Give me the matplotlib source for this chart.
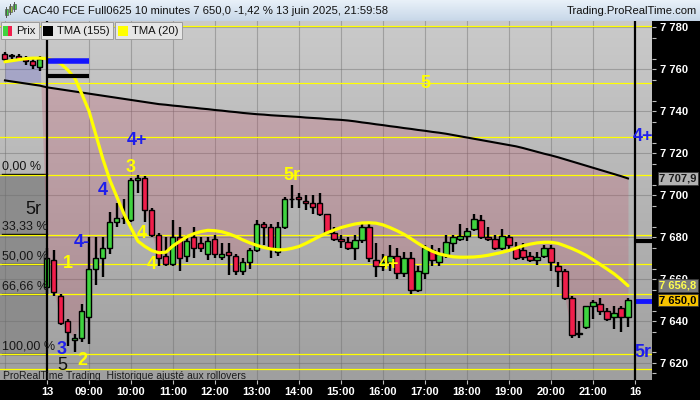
import numpy as np
import matplotlib
matplotlib.use("Agg")
import matplotlib.pyplot as plt
from matplotlib.colors import LinearSegmentedColormap
from matplotlib.patches import Rectangle

# CAC40 FCE Full0625, bougies 10 minutes (barre 0 = 13 juin 08:00)
bar_idx = list(range(-6, 84))
opens = [7767, 7766, 7766, 7765, 7764, 7761,
         7656, 7669, 7652, 7640, 7631, 7632, 7642, 7665, 7670, 7675, 7687, 7689, 7688, 7707,
         7708, 7693, 7681, 7671, 7667, 7680, 7671, 7680, 7677, 7672, 7679, 7670.5, 7673, 7671,
         7664, 7668, 7674, 7686, 7685, 7673, 7685, 7698, 7699, 7697, 7696, 7696, 7691, 7682,
         7679, 7677.6, 7675, 7678.5, 7685, 7669, 7666, 7668, 7671, 7663, 7670, 7655, 7663, 7674,
         7668, 7671.5, 7677, 7679, 7680.5, 7684, 7688, 7680, 7679, 7675, 7680, 7675, 7674, 7671,
         7669, 7671, 7675, 7666, 7664, 7651, 7634, 7637, 7647, 7648, 7645, 7642, 7646, 7642]
highs = [7768, 7767, 7767, 7766, 7765, 7766,
         7675, 7674, 7653, 7641, 7634, 7648, 7680, 7680, 7680, 7692, 7696, 7698, 7708, 7709.5,
         7709, 7694, 7682, 7680, 7688, 7685, 7681, 7685, 7680, 7680, 7681, 7677, 7677, 7672,
         7670, 7675, 7688, 7687, 7686, 7687, 7699, 7705, 7701, 7700, 7700, 7701, 7691, 7685,
         7681, 7680, 7681, 7686.5, 7686, 7677, 7672, 7676, 7675, 7673, 7673, 7666, 7676, 7676,
         7675, 7681, 7681, 7686, 7684.5, 7691, 7690.5, 7685, 7681, 7684, 7681, 7677.6, 7677, 7673,
         7673, 7676, 7676, 7668, 7665, 7652, 7640, 7647, 7650, 7651, 7646, 7647, 7647, 7651]
lows = [7764, 7765, 7764, 7762, 7760, 7759,
        7653, 7652, 7638, 7628, 7625, 7630, 7629, 7657, 7661, 7672, 7685, 7686, 7687, 7701,
        7687, 7680, 7666, 7666, 7666, 7664, 7668, 7670, 7673, 7669, 7670, 7669, 7662, 7662,
        7662, 7665, 7673, 7676, 7670, 7671, 7684, 7694, 7694, 7693, 7691, 7690, 7682, 7678,
        7675, 7674, 7669, 7677, 7668, 7661, 7664, 7664, 7660, 7661, 7653, 7654, 7660, 7666,
        7666, 7670, 7673, 7678, 7678, 7683, 7679, 7678, 7674, 7674, 7674, 7669, 7669, 7668,
        7666.5, 7670, 7664, 7656, 7650, 7632, 7632, 7636, 7641, 7643, 7640, 7636, 7635, 7637]
closes = [7765, 7766.5, 7765, 7764, 7762, 7765,
          7670, 7654, 7639, 7635, 7632, 7645, 7665, 7670, 7675, 7687, 7689, 7689, 7707, 7708,
          7693, 7681, 7670, 7667, 7680, 7670, 7678, 7675, 7675, 7678, 7672, 7672, 7671.5, 7664,
          7668, 7674, 7686, 7685, 7675, 7685, 7698, 7698, 7698, 7696, 7694.5, 7691, 7682, 7679,
          7678, 7675, 7678.5, 7685, 7670, 7666, 7668, 7671, 7663, 7670, 7655, 7664, 7675, 7669,
          7672, 7677.5, 7680, 7680.5, 7683, 7688.6, 7680, 7679, 7675, 7680.5, 7676, 7670, 7670.5, 7669,
          7670.5, 7675, 7668, 7664, 7651, 7633.5, 7634, 7647, 7649, 7645, 7641, 7644, 7642, 7650]

# moyennes mobiles triangulaires
tma155 = [7754.6, 7754.1, 7753.6, 7753.1, 7752.6, 7752.1,
          7751.3, 7750.8, 7750.3, 7749.8, 7749.3, 7748.8, 7748.3, 7747.8, 7747.3, 7746.8,
          7746.3, 7745.8, 7745.3, 7744.8, 7744.3, 7743.8, 7743.3, 7743.0, 7742.6, 7742.3,
          7741.9, 7741.6, 7741.2, 7740.9, 7740.5, 7740.2, 7739.8, 7739.5, 7739.1, 7738.8,
          7738.5, 7738.3, 7738.0, 7737.8, 7737.6, 7737.4, 7737.2, 7736.9, 7736.7, 7736.5,
          7736.2, 7736.0, 7735.8, 7735.5, 7735.1, 7734.6, 7734.2, 7733.7, 7733.3, 7732.8,
          7732.4, 7731.9, 7731.5, 7731.0, 7730.6, 7730.1, 7729.7, 7729.2, 7728.6, 7728.0,
          7727.4, 7726.8, 7726.2, 7725.6, 7725.0, 7724.4, 7723.8, 7723.2, 7722.4, 7721.5,
          7720.6, 7719.7, 7718.9, 7718.0, 7717.0, 7716.0, 7715.0, 7714.0, 7713.0, 7712.0,
          7711.0, 7710.0, 7709.0, 7707.9]
tma20 = [7763.5, 7764.0, 7764.5, 7765.0, 7765.2, 7765.2,
         7765.0, 7764.3, 7762.5, 7759.5, 7755.5, 7748.0, 7740.0, 7728.5, 7717.0, 7707.0,
         7699.0, 7691.0, 7684.3, 7678.0, 7675.5, 7673.5, 7672.5, 7672.8, 7675.8, 7678.0,
         7680.2, 7681.6, 7682.6, 7683.2, 7683.0, 7682.5, 7681.5, 7680.2, 7678.6, 7677.2,
         7676.0, 7675.0, 7674.3, 7673.9, 7674.0, 7674.6, 7675.5, 7677.0, 7678.7, 7680.4,
         7682.0, 7683.3, 7684.5, 7685.4, 7686.2, 7686.7, 7686.8, 7686.6, 7685.8, 7684.5,
         7683.0, 7681.3, 7679.2, 7677.0, 7675.0, 7673.3, 7672.0, 7671.2, 7670.6, 7670.4,
         7670.4, 7670.5, 7670.8, 7671.3, 7672.0, 7672.7, 7673.6, 7674.7, 7675.8, 7676.6,
         7677.2, 7677.5, 7677.5, 7677.0, 7675.8, 7674.5, 7673.0, 7671.3, 7669.2, 7667.0,
         7664.8, 7662.5, 7659.8, 7656.8]

# niveaux horizontaux jaunes
yellow_levels = [7780.4, 7753.3, 7727.6, 7709.5, 7681.0, 7667.0, 7653.0, 7624.3, 7617.0]

# retracement de Fibonacci (boite a gauche)
fib_top = 7710.0
fib_bottom = 7624.5
fib_pcts = [0.0, 33.33, 50.0, 66.66, 100.0]
fib_labels = ["0,00 %", "33,33 %", "50,00 %", "66,66 %", "100,00 %"]

# axe du temps
hour_ticks = [0, 6, 12, 18, 24, 30, 36, 42, 48, 54, 60, 66, 72, 78, 84]
hour_labels = ["13", "09:00", "10:00", "11:00", "12:00", "13:00", "14:00", "15:00",
               "16:00", "17:00", "18:00", "19:00", "20:00", "21:00", "16"]

# etiquettes d'Elliott (barre, prix, texte, couleur, gras)
BLUE = "#1e1eeb"
YEL = "#ffff00"
wave_labels = [
    (12.86, 7726.2, "4+", BLUE, True), (12.0, 7713.3, "3", YEL, True),
    (8.0, 7702.4, "4", BLUE, True), (5.0, 7677.6, "4-", BLUE, True),
    (3.0, 7667.6, "1", YEL, True), (13.57, 7681.9, "4", YEL, True),
    (15.0, 7666.7, "4", YEL, True), (2.14, 7626.6, "3", BLUE, True),
    (2.14, 7618.6, "5", "#111111", False), (5.0, 7621.4, "2", YEL, True),
    (-2.0, 7692.9, "5r", "#111111", False), (35.0, 7709.5, "5r", YEL, True),
    (54.0, 7753.3, "5", YEL, True), (48.86, 7667.1, "4+", YEL, True),
    (85.14, 7728.1, "4+", BLUE, True), (85.14, 7625.2, "5r", BLUE, True),
]

last_prices = [(7707.9, "#b2b2b2", "#1a1a1a"), (7656.8, "#7c7c7c", "#ffff50"),
               (7650.0, "#f7c300", "#000000")]


def fr_price(v, dec=0):
    s = f"{v:,.{dec}f}"
    return s.replace(",", " ").replace(".", ",")


plt.rcParams['font.family'] = ['Liberation Sans', 'DejaVu Sans']

W, H = 700, 400
fig = plt.figure(figsize=(7, 4), dpi=100, facecolor="black")
ax = fig.add_axes([0, 20 / H, 652 / W, 359 / H])

x0, x1 = -6.71, 86.43
y0, y1 = 7611.9, 7782.9

# fond en degrade
bg = LinearSegmentedColormap.from_list("bg", ["#cacaca", "#9f9f9f"])
ax.imshow(np.linspace(0, 1, 256).reshape(-1, 1), cmap=bg, extent=[x0, x1, y0, y1],
          aspect="auto", origin="upper", zorder=0)

# boite fibonacci
ax.add_patch(Rectangle((x0, fib_bottom), 0 - x0, fib_top - fib_bottom, fc="#8c8c8c",
                       ec="none", zorder=0.5))
for pct, lab in zip(fib_pcts, fib_labels):
    lvl = fib_top - pct / 100 * (fib_top - fib_bottom)
    ax.plot([x0 + 0.3, 0], [lvl, lvl], color="black", lw=1.0, zorder=1.2)
    ax.text(x0 + 0.3, lvl + 0.6, lab, fontsize=9, color="#161616", va="bottom",
            ha="left", zorder=6)

# grille
for t in [-6] + hour_ticks[1:-1]:
    ax.axvline(t, color="#6e6e6e", alpha=0.45, lw=0.8, zorder=1)
for p in range(7620, 7781, 20):
    ax.axhline(p, color="#6e6e6e", alpha=0.45, lw=0.8, zorder=1)

x = np.array(bar_idx, dtype=float)
c = np.array(closes)
o = np.array(opens)
m155 = np.array(tma155)

# zone entre la moyenne longue et le prix
ax.fill_between(x, c, m155, where=c < m155, interpolate=True, color="#c8435e",
                alpha=0.22, lw=0, zorder=1.5)
ax.fill_between(x, c, m155, where=c >= m155, interpolate=True, color="#3c3cd2",
                alpha=0.22, lw=0, zorder=1.5)

for lvl in yellow_levels:
    ax.axhline(lvl, color="#ffff00", lw=0.9, zorder=2)

ax.plot(x, tma155, color="black", lw=1.5, zorder=2.5)

# bougies
ax.vlines(x, lows, highs, color="black", lw=1.7, zorder=3)
up = c >= o
body = np.where(np.abs(c - o) < 0.3, 0.3, c - o)
ax.bar(x[up], body[up], bottom=o[up], width=0.72, color="#3fd33f", edgecolor="black",
       lw=1.0, zorder=4)
ax.bar(x[~up], body[~up], bottom=o[~up], width=0.72, color="#f01e4b", edgecolor="black",
       lw=1.0, zorder=4)

ax.plot(x, tma20, color="#ffff00", lw=2.3, zorder=5, solid_capstyle="round")

# separateurs de jours
for t in (hour_ticks[0], hour_ticks[-1]):
    ax.axvline(t, color="black", lw=1.6, zorder=5.5)

# marqueurs horizontaux
ax.plot([0, 6], [7764.0, 7764.0], color="#1414ff", lw=4, solid_capstyle="butt", zorder=5)
ax.plot([0, 6], [7756.5, 7756.5], color="black", lw=3, solid_capstyle="butt", zorder=5)
ax.plot([84, x1], [7649.5, 7649.5], color="#1414ff", lw=3.5, solid_capstyle="butt", zorder=5)
ax.plot([84, x1], [7678.0, 7678.0], color="black", lw=3, solid_capstyle="butt", zorder=5)

for bx, py, txt, col, bold in wave_labels:
    ax.text(bx, py, txt, color=col, fontsize=13, fontweight="bold" if bold else "normal",
            ha="center", va="center", zorder=7)

ax.set_xlim(x0, x1)
ax.set_ylim(y0, y1)
for s in ax.spines.values():
    s.set_visible(False)

ax.set_xticks(hour_ticks)
ax.set_xticklabels(hour_labels)
ax.yaxis.tick_right()
ax.set_yticks(range(7620, 7781, 20))
ax.set_yticklabels([fr_price(v) for v in range(7620, 7781, 20)])
ax.set_yticks(range(7615, 7781, 10), minor=True)
ax.tick_params(axis="x", colors="#bdbdbd", length=3, width=0.8, pad=2, labelsize=8,
               labelcolor="white")
ax.tick_params(axis="y", which="both", colors="#bdbdbd", length=3, width=0.8, pad=3,
               labelsize=8, labelcolor="white")
for lab in ax.get_xticklabels() + ax.get_yticklabels():
    lab.set_fontweight("bold")

for val, fc, tc in last_prices:
    ax.annotate(fr_price(val, 1), xy=(1, val), xycoords=("axes fraction", "data"),
                xytext=(7, 0), textcoords="offset pixels", ha="left", va="center",
                fontsize=8, fontweight="bold", color=tc, annotation_clip=False,
                bbox=dict(boxstyle="square,pad=0.12", fc=fc, ec="#3a3a3a", lw=0.6),
                zorder=10)

# bandeau de titre
hdr = fig.add_axes([0, 379 / H, 1, 21 / H])
hdr.imshow(np.linspace(0, 1, 64).reshape(-1, 1),
           cmap=LinearSegmentedColormap.from_list("hd", ["#e9f1f9", "#c7d7e8"]),
           extent=[0, W, 21, 0], aspect="auto")
hdr.set_xlim(0, W)
hdr.set_ylim(21, 0)
hdr.axis("off")
hdr.axhline(20.5, color="#8fa0b2", lw=0.8)
hdr.text(23, 11, "CAC40 FCE Full0625 10 minutes 7 650,0 -1,42 % 13 juin 2025, 21:59:58",
         fontsize=8.1, color="#111111", va="center", ha="left")
hdr.text(697, 11, "Trading.ProRealTime.com", fontsize=8.1, color="#111111",
         va="center", ha="right")
for cx, b0, b1, col in [(6, 9, 15, "#3fd33f"), (10, 6, 12, "#a0c83c"), (14, 4, 9, "#3fd33f")]:
    hdr.plot([cx, cx], [b0 - 2, b1 + 2], color="#555555", lw=0.7)
    hdr.add_patch(Rectangle((cx - 1.5, b0), 3, b1 - b0, fc=col, ec="#444444", lw=0.4))

# legende
ov = fig.add_axes([0, 0, 1, 1])
ov.set_xlim(0, W)
ov.set_ylim(H, 0)
ov.axis("off")
legend_items = [(0, 39, "Prix"), (40, 113, "TMA (155)"), (114, 182, "TMA (20)")]
for lx0, lx1, txt in legend_items:
    ov.add_patch(Rectangle((lx0 + 0.5, 21.5), lx1 - lx0 - 1, 17, fc="#e6e6e6",
                           ec="#9c9c9c", lw=0.7))
ov.add_patch(Rectangle((3, 26), 4.5, 10, fc="#3fd33f", ec="none"))
ov.add_patch(Rectangle((7.5, 26), 4.5, 10, fc="#f01e4b", ec="none"))
ov.add_patch(Rectangle((43, 26), 10, 10, fc="black", ec="none"))
ov.add_patch(Rectangle((118, 26), 10, 10, fc="#ffff00", ec="none"))
ov.text(16, 30.5, "Prix", fontsize=8.1, color="#111111", va="center")
ov.text(57, 30.5, "TMA (155)", fontsize=8.1, color="#111111", va="center")
ov.text(132, 30.5, "TMA (20)", fontsize=8.1, color="#111111", va="center")
ov.text(3, 376, "ProRealTime Trading  Historique ajusté aux rollovers", fontsize=7.5,
        color="#1c1c1c", va="center", ha="left")

fig.savefig("out.png", dpi=100, facecolor="black")
